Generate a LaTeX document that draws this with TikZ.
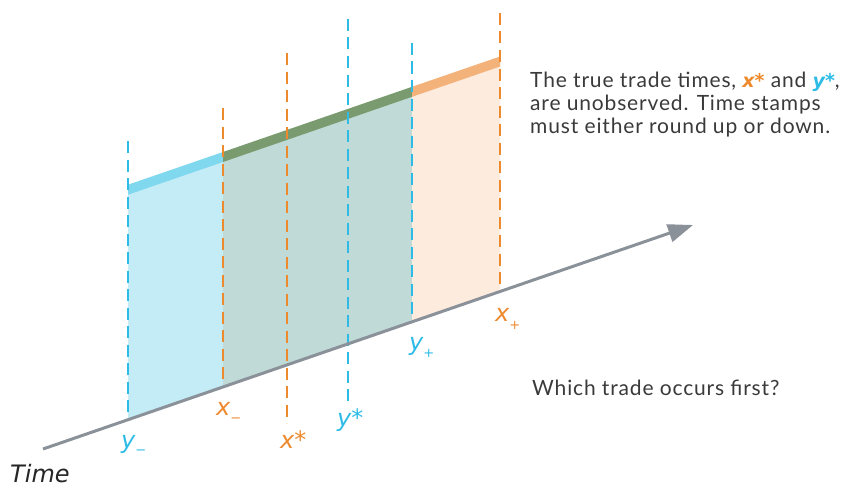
\documentclass[tikz,border=0pt]{standalone}
\usepackage{fontspec}
\setmainfont{Lato}
\newfontfamily\bodyfont[LetterSpace=4]{Lato}
\newfontfamily\labfont{DejaVu Sans}
\usetikzlibrary{arrows.meta}
\definecolor{cyanL}{HTML}{2EBCE6}
\definecolor{orangeL}{HTML}{EE8A2E}
\definecolor{blueFill}{HTML}{C4ECF6}
\definecolor{blueBand}{HTML}{80D8EF}
\definecolor{midFill}{HTML}{C0DAD7}
\definecolor{greenBand}{HTML}{7A9B6F}
\definecolor{orFill}{HTML}{FDEBDE}
\definecolor{orBand}{HTML}{F4B27B}
\definecolor{axisG}{HTML}{8A9199}
\definecolor{txtG}{HTML}{3A3A3A}
\newcommand\lsub[2]{\raisebox{#1}{\fontsize{13}{13}\selectfont\upshape #2}}
\newcommand\hl[2]{{\labfont\fontsize{19}{23}\selectfont\bfseries\itshape\color{#1}#2}}
\begin{document}
\begin{tikzpicture}[x=1pt,y=-1pt,
  dashln/.style={line width=2pt, dash pattern=on 12pt off 6.5pt},
  lab/.style={font=\labfont\fontsize{24}{28}\selectfont\itshape, inner sep=0pt, anchor=base west},
  body/.style={font=\bodyfont\fontsize{21}{23}\selectfont, text=txtG, inner sep=0pt, anchor=base west}]
\useasboundingbox (0,0) rectangle (848,487);
% regions
\fill[blueFill] (128,419.7) -- (223,387) -- (223,157) -- (128,189.7) -- cycle;
\fill[midFill] (223,387) -- (412,321.8) -- (412,91.8) -- (223,157) -- cycle;
\fill[orFill] (412,321.8) -- (500,291.5) -- (500,61.5) -- (412,91.8) -- cycle;
% bands
\fill[blueBand] (128,184.7) -- (223,152) -- (223,162) -- (128,194.7) -- cycle;
\fill[greenBand] (223,152) -- (412,86.8) -- (412,96.8) -- (223,162) -- cycle;
\fill[orBand] (412,86.8) -- (500,56.5) -- (500,66.5) -- (412,96.8) -- cycle;
% dashed lines
\coordinate (ymt) at (128,141); \coordinate (ymb) at (128,419.7);
\coordinate (xmt) at (223,108); \coordinate (xmb) at (223,387);
\coordinate (xst) at (287,53);  \coordinate (xsb) at (287,423);
\coordinate (yst) at (348,19);  \coordinate (ysb) at (348,403);
\coordinate (ypt) at (412,43);  \coordinate (ypb) at (412,321.8);
\coordinate (xpt) at (500,13);  \coordinate (xpb) at (500,291.5);
\draw[dashln, cyanL] (ymt) -- (ymb);
\draw[dashln, orangeL] (xmt) -- (xmb);
\draw[dashln, orangeL] (xst) -- (xsb);
\draw[dashln, cyanL] (yst) -- (ysb);
\draw[dashln, cyanL] (ypt) -- (ypb);
\draw[dashln, orangeL] (xpt) -- (xpb);
% axis
\coordinate (t0) at (43,449);
\coordinate (t1) at (693,225);
\draw[axisG, line width=3pt, -{Triangle[length=25pt,width=18pt]}] (t0) -- (t1);
% labels
\node[lab, text=cyanL] (lym) at (121,448) {y\lsub{-6pt}{−}};
\node[lab, text=orangeL] (lxm) at (216,415) {x\lsub{-7pt}{−}};
\node[lab, text=orangeL] (lxs) at (280,448.5) {x*};
\node[lab, text=cyanL] (lys) at (337,426) {y*};
\node[lab, text=cyanL] (lyp) at (409,350) {y\lsub{-7.5pt}{+}};
\node[lab, text=orangeL] (lxp) at (495,321) {x\lsub{-8pt}{+}};
\node[lab, text=black!85] (ltime) at (10,482) {Time};
% text
\node[body] (tx1) at (530,87.3) {The true trade times, \hl{orangeL}{x*} and \hl{cyanL}{y*},};
\node[body] (tx2) at (530,110.5) {are unobserved. Time stamps};
\node[body] (tx3) at (530,133.5) {must either round up or down.};
\node[body] (tx4) at (532,395) {Which trade occurs first?};
\end{tikzpicture}
\end{document}
